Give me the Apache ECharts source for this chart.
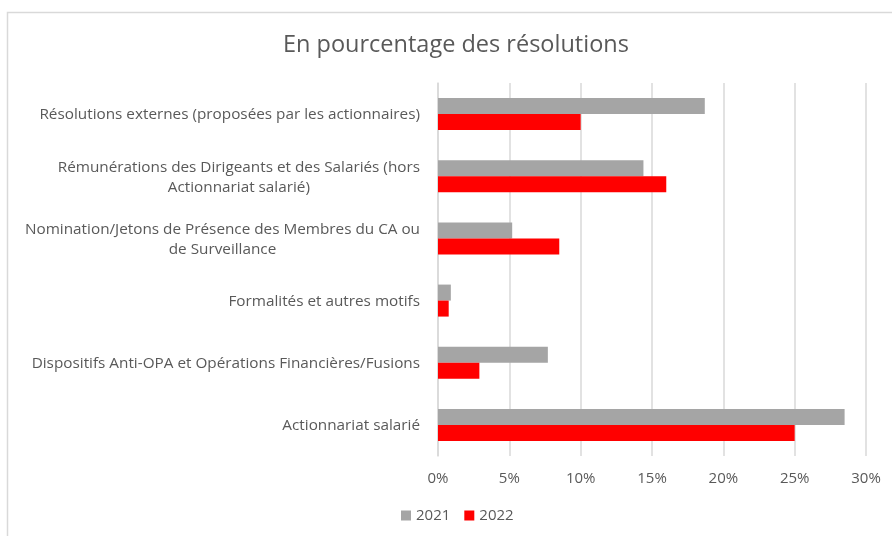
<!DOCTYPE html>
<html>
<head>
<meta charset="utf-8">
<script src="https://cdn.jsdelivr.net/npm/echarts@6/dist/echarts.min.js"></script>
<style>
html,body{margin:0;padding:0;background:#fff;}
#chart{width:892px;height:536px;}
</style>
</head>
<body>
<div id="chart"></div>
<script>
const titleText = "En pourcentage des résolutions";
const categories = [
  "Résolutions externes (proposées par les actionnaires)",
  "Rémunérations des Dirigeants et des Salariés (hors\nActionnariat salarié)",
  "Nomination/Jetons de Présence des Membres du CA ou\nde Surveillance",
  "Formalités et autres motifs",
  "Dispositifs Anti-OPA et Opérations Financières/Fusions",
  "Actionnariat salarié"
];
const seriesNames = ["2021", "2022"];
const values2021 = [18.7, 14.4, 5.2, 0.9, 7.7, 28.5];
const values2022 = [10.0, 16.0, 8.5, 0.75, 2.9, 25.0];
const axisMin = 0, axisMax = 30, axisStep = 5;

const FONT = "Open Sans";
const TXT = "#595959";

const chart = echarts.init(document.getElementById('chart'), null, {renderer: 'canvas'});
chart.setOption({
  animation: false,
  backgroundColor: '#ffffff',
  textStyle: {fontFamily: FONT},
  graphic: [{
    type: 'rect', silent: true, z: -10,
    shape: {x: 7.5, y: 12.5, width: 1000, height: 1000},
    style: {fill: 'none', stroke: '#d9d9d9', lineWidth: 1.5}
  }],
  title: {
    text: titleText, left: 278, top: 28,
    textStyle: {fontFamily: FONT, fontSize: 23.5, fontWeight: 'normal', color: TXT}
  },
  legend: {
    data: seriesNames, top: 503, left: 396,
    icon: 'rect', itemWidth: 10, itemHeight: 10, itemGap: 14,
    textStyle: {fontFamily: FONT, fontSize: 15, color: TXT}
  },
  grid: {left: 438, right: 26, top: 83, bottom: 80, containLabel: false},
  xAxis: {
    type: 'value', min: axisMin, max: axisMax, interval: axisStep,
    axisLine: {show: false}, axisTick: {show: false},
    splitLine: {lineStyle: {color: '#d9d9d9', width: 1.5}},
    axisLabel: {formatter: '{value}%', color: TXT, fontSize: 15, fontFamily: FONT, margin: 15}
  },
  yAxis: {
    type: 'category', data: categories, inverse: true,
    axisLine: {show: true, lineStyle: {color: '#d9d9d9', width: 1.5}},
    axisTick: {show: false},
    axisLabel: {
      margin: 18, color: TXT, fontSize: 15.3, fontFamily: FONT, lineHeight: 20,
      formatter: v => v.split('\n').map(l => '{c|' + l + '}').join('\n'),
      rich: {c: {align: 'center', color: TXT, fontSize: 15.3, fontFamily: FONT, lineHeight: 20, padding: [2, 0, 0, 0]}}
    }
  },
  series: [
    {name: seriesNames[0], type: 'bar', data: values2021, barWidth: 16, barGap: '0%',
     itemStyle: {color: '#a5a5a5'}},
    {name: seriesNames[1], type: 'bar', data: values2022, barWidth: 16, barGap: '0%',
     itemStyle: {color: '#ff0000'}}
  ]
});
</script>
</body>
</html>
